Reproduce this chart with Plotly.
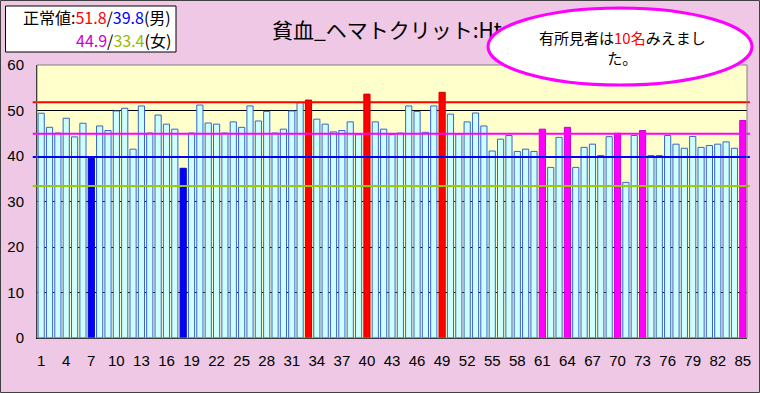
import plotly.graph_objects as go

# ---- data ----
subjects = list(range(1, 86))
hematocrit = [
    49.4, 46.3, 45.05, 48.3, 44.2, 47.2, 39.5, 46.6, 45.6, 49.9,
    50.5, 41.5, 51.0, 45.05, 49.0, 47.0, 45.9, 37.3, 45.05, 51.2,
    47.25, 47.0, 45.05, 47.5, 46.3, 51.0, 47.7, 49.8, 45.05, 45.9,
    49.9, 51.7, 52.3, 48.1, 47.0, 45.3, 45.6, 47.5, 44.7, 53.6,
    47.5, 45.9, 44.7, 45.05, 51.0, 49.8, 45.2, 51.0, 54.0, 49.2,
    44.8, 47.5, 49.45, 46.6, 41.1, 43.7, 44.5, 41.0, 41.5, 41.0,
    45.9, 37.5, 44.1, 46.3, 37.5, 41.9, 42.6, 40.1, 44.25, 45.0,
    34.2, 44.5, 45.6, 40.1, 40.1, 44.5, 42.6, 41.7, 44.3, 41.9,
    42.3, 42.6, 43.1, 41.7, 47.8,
]
flag_low_male = [7, 18]
flag_high_male = [33, 40, 49]
flag_high_female = [61, 64, 70, 73, 85]

male_upper, male_lower = 51.8, 39.8
female_upper, female_lower = 44.9, 33.4

x_ticks = list(range(1, 86, 3))
y_ticks = [0, 10, 20, 30, 40, 50, 60]

title_text = "貧血_ヘマトクリット:Ht"
note_text = "有所見者は<span style='color:#FF0000'>10名</span>みえまし<br>た。"

# ---- styles ----
fills, edges = [], []
for s in subjects:
    if s in flag_low_male:
        fills.append("#0000FF"); edges.append("#0000CC")
    elif s in flag_high_male:
        fills.append("#FF0000"); edges.append("#CC0000")
    elif s in flag_high_female:
        fills.append("#FF00FF"); edges.append("#CC00CC")
    else:
        fills.append("#CCFFFF"); edges.append("#3A62D0")

W, H = 760, 393
PL, PR, PT, PB = 37, 747, 65, 338   # plot area in pixels

def px(x):
    return x / W

def py(y):
    return 1 - y / H

fig = go.Figure()
fig.add_trace(go.Bar(
    x=subjects, y=hematocrit, width=0.74,
    marker=dict(color=fills, line=dict(color=edges, width=1)),
    hoverinfo="x+y", showlegend=False, xaxis="x", yaxis="y",
))

# title drawn as a text mark in a header subplot so that the ellipse overlaps it
fig.add_trace(go.Scatter(
    x=[272], y=[33], mode="text", text=[title_text],
    textposition="middle right", showlegend=False,
    textfont=dict(size=21, color="#000000", family="Noto Sans CJK JP"),
    hoverinfo="skip", xaxis="x2", yaxis="y2",
))

shapes = []
shapes.append(dict(type="rect", xref="x domain", yref="y domain", x0=0, x1=1, y0=0, y1=1,
                   fillcolor="#FFFFCC", line=dict(width=0), layer="below"))
for val, col in [(male_upper, "#FF0000"), (female_upper, "#FF00FF"),
                 (male_lower, "#0000FF"), (female_lower, "#99CC00")]:
    shapes.append(dict(type="line", xref="x domain", yref="y", x0=-0.006, x1=1.004,
                       y0=val, y1=val, line=dict(color=col, width=2), layer="above"))
shapes.append(dict(type="rect", xref="x domain", yref="y domain", x0=0, x1=1, y0=0, y1=1,
                   line=dict(color="#808080", width=1), layer="above"))
shapes.append(dict(type="rect", xref="paper", yref="paper",
                   x0=px(5.5), x1=px(176), y0=py(52), y1=py(6),
                   fillcolor="#FFFFFF", line=dict(color="#000000", width=1), layer="above"))
shapes.append(dict(type="circle", xref="paper", yref="paper",
                   x0=px(488), x1=px(752), y0=py(85), y1=py(8),
                   fillcolor="#FFFFFF", line=dict(color="#FF00FF", width=3), layer="above"))
shapes.append(dict(type="rect", xref="paper", yref="paper",
                   x0=px(0.5), x1=px(W - 0.5), y0=py(H - 0.5), y1=py(0.5),
                   line=dict(color="#404040", width=1), layer="above"))

jp = "Noto Sans CJK JP"
annotations = [
    dict(xref="paper", yref="paper", x=px(173), y=py(17), xanchor="right", yanchor="middle",
         showarrow=False, font=dict(size=16, family=jp, color="#000000"),
         text="正常値:<span style='color:#FF0000'>51.8</span>/<span style='color:#0000FF'>39.8</span>(男)"),
    dict(xref="paper", yref="paper", x=px(173), y=py(40), xanchor="right", yanchor="middle",
         showarrow=False, font=dict(size=16, family=jp, color="#000000"),
         text="<span style='color:#CC00CC'>44.9</span>/<span style='color:#99BB00'>33.4</span>(女)"),
    dict(xref="paper", yref="paper", x=px(622), y=py(48), xanchor="center", yanchor="middle",
         showarrow=False, font=dict(size=15, family=jp, color="#000000"), align="center",
         text=note_text),
]

fig.update_layout(
    width=W, height=H,
    margin=dict(l=0, r=0, t=0, b=0, pad=0),
    paper_bgcolor="#EEC8E4",
    plot_bgcolor="rgba(0,0,0,0)",
    shapes=shapes, annotations=annotations,
    xaxis=dict(domain=[px(PL), px(PR)], range=[0.5, 85.5], tickmode="array", tickvals=x_ticks,
               ticktext=[str(v) for v in x_ticks], showgrid=False, zeroline=False,
               showline=True, linecolor="#000000", linewidth=1, ticks="",
               ticklabelstandoff=9, automargin=False, anchor="y",
               tickfont=dict(size=15, family="Liberation Sans", color="#000000")),
    yaxis=dict(domain=[py(PB), py(PT)], range=[0, 60], tickmode="array", tickvals=y_ticks,
               showgrid=True, gridcolor="#000000", gridwidth=1, zeroline=False,
               showline=True, linecolor="#000000", linewidth=1, ticks="",
               ticklabelstandoff=9, automargin=False, anchor="x",
               tickfont=dict(size=15, family="Liberation Sans", color="#000000")),
    xaxis2=dict(domain=[0, 1], range=[0, W], visible=False, anchor="y2", fixedrange=True),
    yaxis2=dict(domain=[py(60), 1], range=[60, 0], visible=False, anchor="x2", fixedrange=True),
)

fig.write_html("out.html", config={"displayModeBar": False},
               post_script="document.body.style.margin='0';")
